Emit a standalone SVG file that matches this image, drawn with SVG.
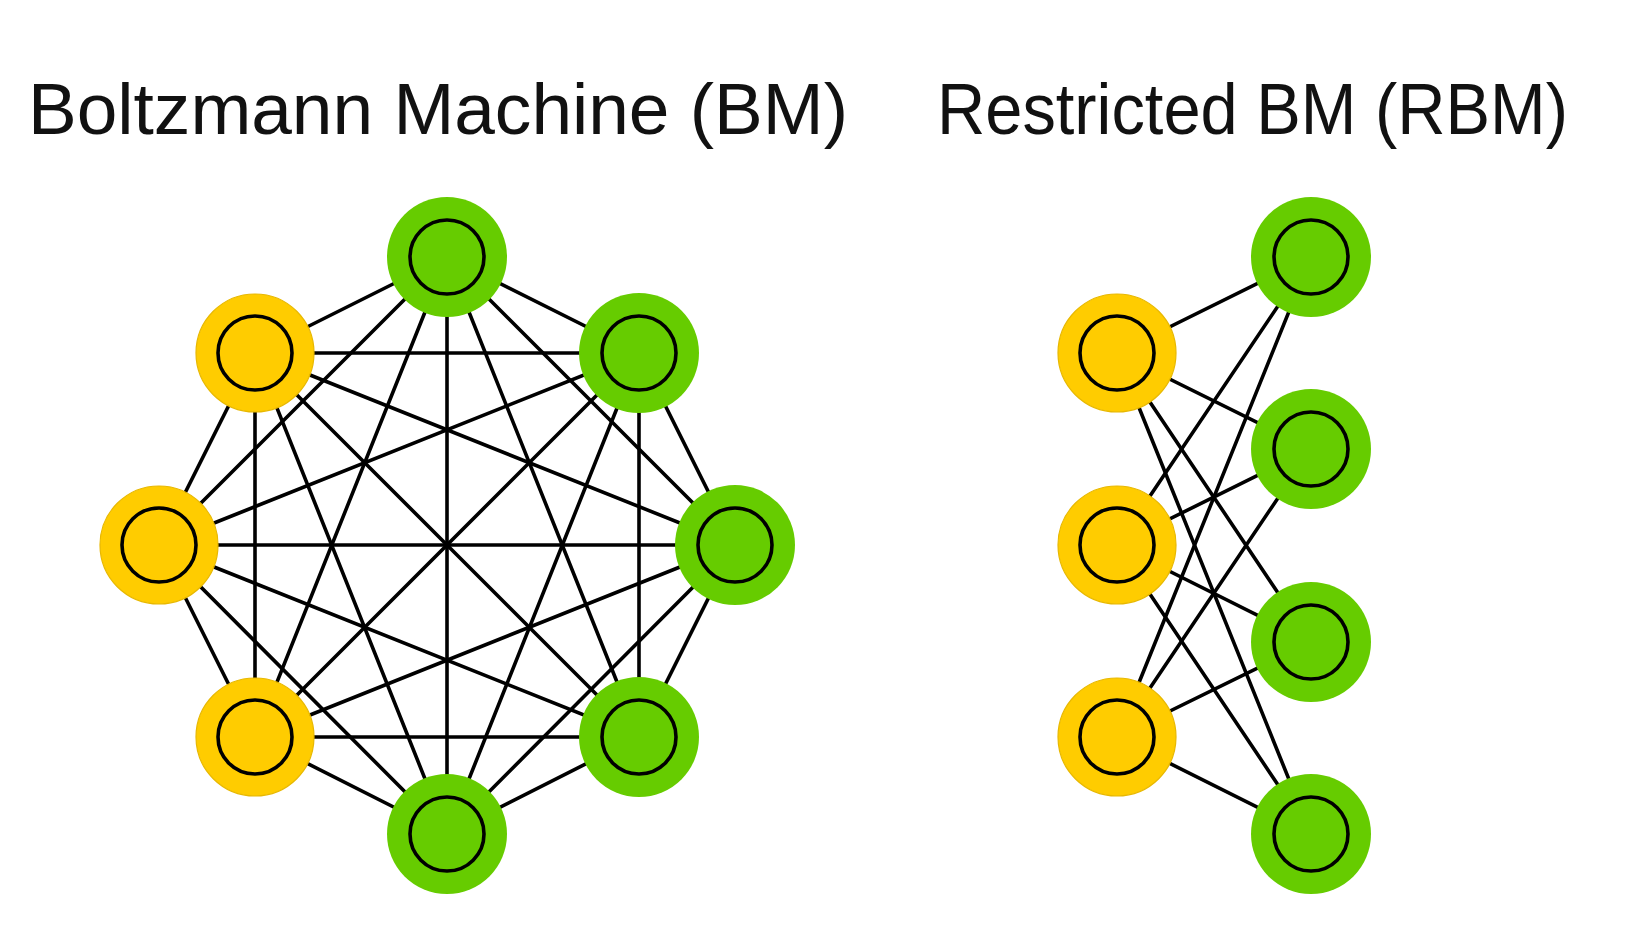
<svg xmlns="http://www.w3.org/2000/svg" width="1645" height="946" viewBox="0 0 1645 946">
<style>
.t{font-family:"Liberation Sans","Noto Sans",sans-serif;font-size:72px;fill:#111}
.e line{stroke:#000;stroke-width:3.6;stroke-linecap:round}
.v{fill:#FFCC00;stroke:#E8B800;stroke-width:1.2}
.h{fill:#66CC00}
.in{fill:none;stroke:#000;stroke-width:3.6}
</style>
<rect width="1645" height="946" fill="#fff"/>
<text class="t" x="28" y="134" textLength="820" lengthAdjust="spacingAndGlyphs">Boltzmann Machine (BM)</text>
<text class="t" x="937" y="134" textLength="631" lengthAdjust="spacingAndGlyphs">Restricted BM (RBM)</text>
<g id="connectors" class="e">
<line x1="447" y1="257" x2="639" y2="353"/>
<line x1="447" y1="257" x2="735" y2="545"/>
<line x1="447" y1="257" x2="639" y2="737"/>
<line x1="447" y1="257" x2="447" y2="834"/>
<line x1="447" y1="257" x2="255" y2="737"/>
<line x1="447" y1="257" x2="159" y2="545"/>
<line x1="447" y1="257" x2="255" y2="353"/>
<line x1="639" y1="353" x2="735" y2="545"/>
<line x1="639" y1="353" x2="639" y2="737"/>
<line x1="639" y1="353" x2="447" y2="834"/>
<line x1="639" y1="353" x2="255" y2="737"/>
<line x1="639" y1="353" x2="159" y2="545"/>
<line x1="639" y1="353" x2="255" y2="353"/>
<line x1="735" y1="545" x2="639" y2="737"/>
<line x1="735" y1="545" x2="447" y2="834"/>
<line x1="735" y1="545" x2="255" y2="737"/>
<line x1="735" y1="545" x2="159" y2="545"/>
<line x1="735" y1="545" x2="255" y2="353"/>
<line x1="639" y1="737" x2="447" y2="834"/>
<line x1="639" y1="737" x2="255" y2="737"/>
<line x1="639" y1="737" x2="159" y2="545"/>
<line x1="639" y1="737" x2="255" y2="353"/>
<line x1="447" y1="834" x2="255" y2="737"/>
<line x1="447" y1="834" x2="159" y2="545"/>
<line x1="447" y1="834" x2="255" y2="353"/>
<line x1="255" y1="737" x2="159" y2="545"/>
<line x1="255" y1="737" x2="255" y2="353"/>
<line x1="159" y1="545" x2="255" y2="353"/>
<line x1="1117" y1="353" x2="1311" y2="257"/>
<line x1="1117" y1="353" x2="1311" y2="449"/>
<line x1="1117" y1="353" x2="1311" y2="642"/>
<line x1="1117" y1="353" x2="1311" y2="834"/>
<line x1="1117" y1="545" x2="1311" y2="257"/>
<line x1="1117" y1="545" x2="1311" y2="449"/>
<line x1="1117" y1="545" x2="1311" y2="642"/>
<line x1="1117" y1="545" x2="1311" y2="834"/>
<line x1="1117" y1="737" x2="1311" y2="257"/>
<line x1="1117" y1="737" x2="1311" y2="449"/>
<line x1="1117" y1="737" x2="1311" y2="642"/>
<line x1="1117" y1="737" x2="1311" y2="834"/>
</g>
<g id="bm-top"><circle class="h" cx="447" cy="257" r="60"/><circle class="in" cx="447" cy="257" r="37"/></g>
<g id="bm-upper-right"><circle class="h" cx="639" cy="353" r="60"/><circle class="in" cx="639" cy="353" r="37"/></g>
<g id="bm-right"><circle class="h" cx="735" cy="545" r="60"/><circle class="in" cx="735" cy="545" r="37"/></g>
<g id="bm-lower-right"><circle class="h" cx="639" cy="737" r="60"/><circle class="in" cx="639" cy="737" r="37"/></g>
<g id="bm-bottom"><circle class="h" cx="447" cy="834" r="60"/><circle class="in" cx="447" cy="834" r="37"/></g>
<g id="bm-lower-left"><circle class="v" cx="255" cy="737" r="59"/><circle class="in" cx="255" cy="737" r="37"/></g>
<g id="bm-left"><circle class="v" cx="159" cy="545" r="59"/><circle class="in" cx="159" cy="545" r="37"/></g>
<g id="bm-upper-left"><circle class="v" cx="255" cy="353" r="59"/><circle class="in" cx="255" cy="353" r="37"/></g>
<g id="rbm-v1"><circle class="v" cx="1117" cy="353" r="59"/><circle class="in" cx="1117" cy="353" r="37"/></g>
<g id="rbm-v2"><circle class="v" cx="1117" cy="545" r="59"/><circle class="in" cx="1117" cy="545" r="37"/></g>
<g id="rbm-v3"><circle class="v" cx="1117" cy="737" r="59"/><circle class="in" cx="1117" cy="737" r="37"/></g>
<g id="rbm-h1"><circle class="h" cx="1311" cy="257" r="60"/><circle class="in" cx="1311" cy="257" r="37"/></g>
<g id="rbm-h2"><circle class="h" cx="1311" cy="449" r="60"/><circle class="in" cx="1311" cy="449" r="37"/></g>
<g id="rbm-h3"><circle class="h" cx="1311" cy="642" r="60"/><circle class="in" cx="1311" cy="642" r="37"/></g>
<g id="rbm-h4"><circle class="h" cx="1311" cy="834" r="60"/><circle class="in" cx="1311" cy="834" r="37"/></g>
</svg>
